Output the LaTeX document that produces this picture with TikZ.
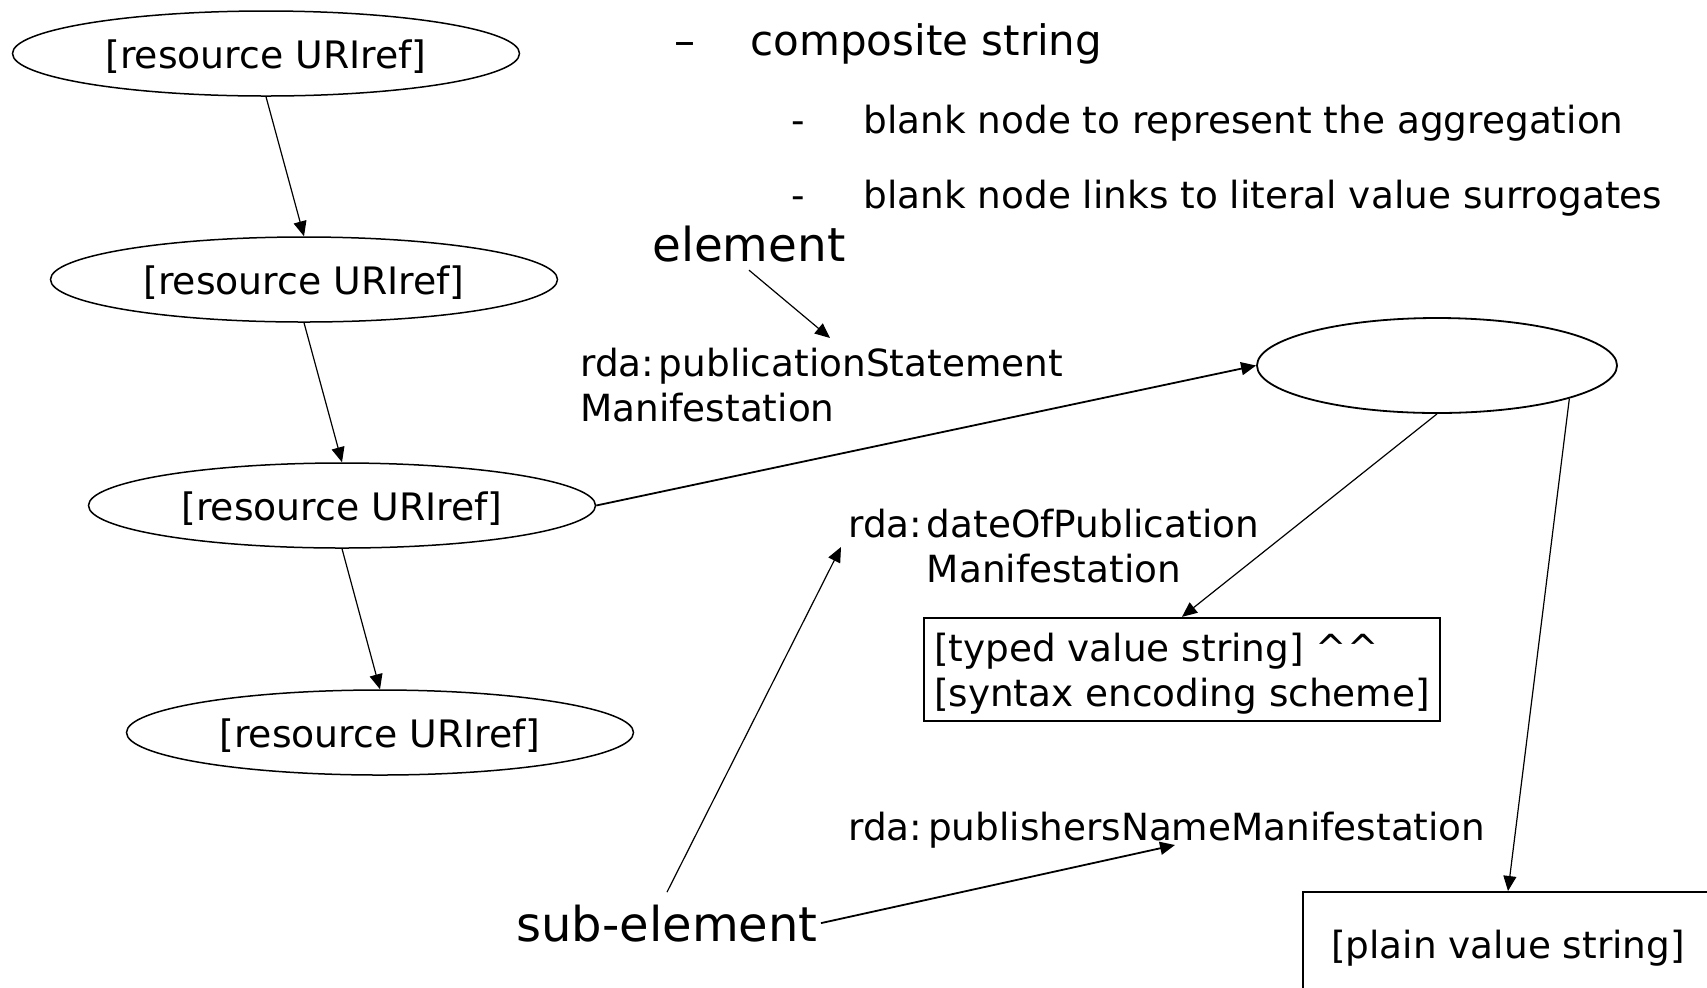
\documentclass[tikz,border=0pt]{standalone}
\usepackage{fontspec}
\setmainfont{DejaVu Sans}
\usetikzlibrary{arrows.meta,shapes.geometric}
\newcommand\lowered[2]{\raisebox{-#1}[\height][\depth]{#2}}
\begin{document}
\begin{tikzpicture}[x=0.5pt,y=-0.5pt,
  res/.style={ellipse,draw,line width=0.75pt,minimum width=253.5pt,minimum height=42.5pt,inner sep=0pt,font=\fontsize{18.9}{22.5}\selectfont},
  lbl/.style={inner sep=0pt,font=\fontsize{18.7}{22.5}\selectfont},
  mid/.style={inner sep=0pt,font=\fontsize{21}{25}\selectfont},
  big/.style={inner sep=0pt,font=\fontsize{23.4}{28}\selectfont},
  arr/.style={-{Triangle[length=7.5pt,width=6.5pt]},line width=0.6pt},
  valbox/.style={rectangle,draw,line width=1pt,font=\fontsize{18.7}{22.5}\selectfont}
]
\useasboundingbox (0,0) rectangle (1707,987);
\fill[white] (0,0) rectangle (1707,987);
% resource chain
\node[res] (e1) at (266,53.5) {\lowered{1.5pt}{[resource URIref]}};
\node[res] (e2) at (304,279.5) {\lowered{1.5pt}{[resource URIref]}};
\node[res] (e3) at (342,505.5) {\lowered{1.5pt}{[resource URIref]}};
\node[res] (e4) at (380,732.5) {\lowered{1.5pt}{[resource URIref]}};
\draw[arr] (e1.south) -- (e2.north);
\draw[arr] (e2.south) -- (e3.north);
\draw[arr] (e3.south) -- (e4.north);
% blank node and values
\node[ellipse,draw,line width=0.9pt,minimum width=180pt,minimum height=47.5pt] (blank) at (1437,365.5) {};
\node[valbox,minimum width=257pt,minimum height=49.5pt,inner xsep=5pt] (typed) at (1182,669.5) {\lowered{2.5pt}{\begin{tabular}{@{}l@{}}[typed value string] \textasciicircum\textasciicircum\\{}[syntax encoding scheme]\end{tabular}}};
\node[valbox,minimum width=205pt,minimum height=54pt] (plain) at (1508,946) {\lowered{1pt}{[plain value string]}};
\draw[arr,line width=0.9pt] (e3.east) -- (blank.west);
\draw[arr] (blank.south) -- (typed.north);
\draw[arr] (blank.-14.6) -- (plain.north);
% header text
\node[mid,anchor=base west] (dash) at (674,55) {\textendash};
\node[mid,anchor=base west] (comp) at (750,55) {composite string};
\node[lbl,anchor=base west] (d1) at (791,133) {-};
\node[lbl,anchor=base west] (b1) at (863,133) {blank node to represent the aggregation};
\node[lbl,anchor=base west] (d2) at (791,208) {-};
\node[lbl,anchor=base west] (b2) at (863,208) {blank node links to literal value surrogates};
% element labels
\node[big,inner ysep=4pt,anchor=base west] (elem) at (652,261) {element};
\coordinate (elemTip) at (830,338);
\draw[arr] (elem.south) -- (elemTip);
\node[lbl,anchor=base west] (pubst) at (580,376) {\begin{tabular}[t]{@{}l@{}}rda:\hspace{0.12em}publicationStatement\\Manifestation\end{tabular}};
\node[lbl,anchor=base west] (dop) at (848,537) {\begin{tabular}[t]{@{}l@{}l@{}}rda:\kern0.12em&dateOfPublication\\&Manifestation\end{tabular}};
\node[lbl,anchor=base west] (pnm) at (848,840) {rda:\hspace{0.15em}publishersNameManifestation};
\node[big,font=\fontsize{24}{28}\selectfont,inner xsep=1.5pt,inner ysep=6pt,anchor=base west] (sub) at (513,941) {sub-element};
\coordinate (dateTip) at (841,547);
\coordinate (pnTip) at (1175,845);
\draw[arr] (sub.north) -- (dateTip);
\draw[arr,line width=0.9pt] (sub.east) -- (pnTip);
\end{tikzpicture}
\end{document}
